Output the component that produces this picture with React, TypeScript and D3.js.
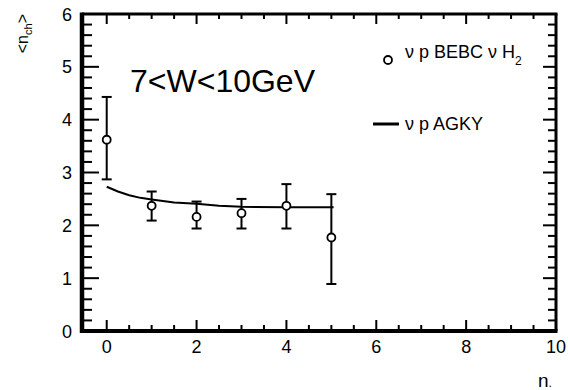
import React from "react";
import * as d3 from "d3";

const nValues = [0, 1, 2, 3, 4, 5];
const meanValues = [3.62, 2.37, 2.16, 2.23, 2.37, 1.77];
const errUp = [4.43, 2.64, 2.45, 2.5, 2.78, 2.59];
const errDown = [2.87, 2.09, 1.94, 1.94, 1.94, 0.89];

const agkyN = [0, 0.25, 0.5, 0.75, 1, 1.5, 2, 2.5, 3, 4, 5.05];
const agkyV = [2.73, 2.64, 2.57, 2.52, 2.49, 2.43, 2.41, 2.37, 2.35, 2.34, 2.34];

const xTickLabels = [0, 2, 4, 6, 8, 10];
const yTickLabels = [0, 1, 2, 3, 4, 5, 6];

const W = 568;
const H = 390;
const left = 82;
const right = 556;
const top = 14;
const bottom = 331;

const FONT = "'Liberation Sans', Arial, Helvetica, sans-serif";

export default function App() {
  const x = d3.scaleLinear().domain([-0.55, 10]).range([left, right]);
  const y = d3.scaleLinear().domain([0, 6]).range([bottom, top]);

  const xMinor = d3.range(0, 10.001, 0.5);
  const yMinor = d3.range(0, 6.001, 0.2);

  const line = d3
    .line<number>()
    .x((_, i) => x(agkyN[i]))
    .y((d) => y(d));

  const ticks: React.ReactNode[] = [];
  xMinor.forEach((v, i) => {
    const major = Math.abs(v - Math.round(v / 2) * 2) < 1e-6;
    const xx = x(v);
    ticks.push(
      <line key={"xb" + i} x1={xx} x2={xx} y1={bottom} y2={bottom - (major ? 11 : 6)} stroke="#000" strokeWidth={2} />
    );
    ticks.push(
      <line key={"xt" + i} x1={xx} x2={xx} y1={top} y2={top + (major ? 10 : 5)} stroke="#000" strokeWidth={2} />
    );
  });
  yMinor.forEach((v, i) => {
    const major = Math.abs(v - Math.round(v)) < 1e-6;
    const yy = y(v);
    ticks.push(
      <line key={"yl" + i} x1={left} x2={left + (major ? 17 : 10)} y1={yy} y2={yy} stroke="#000" strokeWidth={2} />
    );
    ticks.push(
      <line key={"yr" + i} x1={right} x2={right - (major ? 13 : 8)} y1={yy} y2={yy} stroke="#000" strokeWidth={2} />
    );
  });

  return (
    <svg
      width={W}
      height={H}
      style={{ position: "absolute", left: 0, top: 0, background: "#fff" }}
      fontFamily={FONT}
    >
      <rect x={0} y={0} width={W} height={H} fill="#fff" />
      {ticks}
      <line x1={left} x2={right + 1.5} y1={top} y2={top} stroke="#000" strokeWidth={3} />
      <line x1={right} x2={right} y1={top} y2={bottom} stroke="#000" strokeWidth={3} />
      <line x1={left} x2={left} y1={top - 1.5} y2={bottom + 2} stroke="#000" strokeWidth={4.5} />
      <line x1={left - 2} x2={right + 1.5} y1={bottom} y2={bottom} stroke="#000" strokeWidth={4} />

      {xTickLabels.map((v) => (
        <text key={"xl" + v} x={x(v)} y={353} fontSize={18} textAnchor="middle" fill="#000">
          {v}
        </text>
      ))}
      {yTickLabels.map((v) => (
        <text key={"yl" + v} x={72} y={y(v) + 6.5} fontSize={18} textAnchor="end" fill="#000">
          {v}
        </text>
      ))}

      <text transform="translate(28,14) rotate(-90)" fontSize={16} textAnchor="end" fill="#000">
        {"<n"}
        <tspan fontSize={11} dy={4}>ch</tspan>
        <tspan dy={-4}>{">"}</tspan>
      </text>

      <text x={538} y={387} fontSize={19} fill="#000">
        n
        <tspan fontSize={12} dy={0}>.</tspan>
      </text>

      <text x={130} y={92} fontSize={32} fill="#000">
        7&lt;W&lt;10GeV
      </text>

      {/* AGKY line */}
      <path d={line(agkyV) || ""} fill="none" stroke="#000" strokeWidth={2} />

      {/* Data with error bars */}
      {nValues.map((n, i) => {
        const cx = x(n);
        return (
          <g key={"p" + i}>
            <line x1={cx} x2={cx} y1={y(errUp[i])} y2={y(errDown[i])} stroke="#000" strokeWidth={2} />
            <line x1={cx - 5} x2={cx + 5} y1={y(errUp[i])} y2={y(errUp[i])} stroke="#000" strokeWidth={2} />
            <line x1={cx - 5} x2={cx + 5} y1={y(errDown[i])} y2={y(errDown[i])} stroke="#000" strokeWidth={2} />
            <circle cx={cx} cy={y(meanValues[i])} r={4} fill="#fff" stroke="#000" strokeWidth={1.8} />
          </g>
        );
      })}

      {/* Legend */}
      <circle cx={388} cy={60} r={4} fill="#fff" stroke="#000" strokeWidth={1.8} />
      <text x={405} y={58} fontSize={18} fill="#000">
        ν p BEBC ν H<tspan fontSize={12} dy={7}>2</tspan>
      </text>
      <line x1={373} x2={399} y1={124} y2={124} stroke="#000" strokeWidth={3} />
      <text x={405} y={130} fontSize={18} fill="#000">
        ν p AGKY
      </text>
    </svg>
  );
}
